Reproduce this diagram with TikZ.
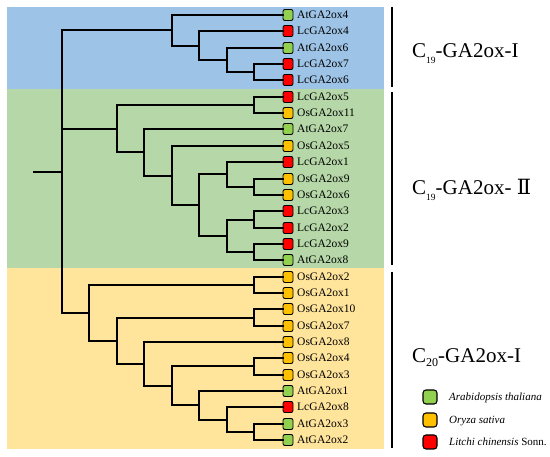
\documentclass[tikz,border=0pt]{standalone}
\usepackage{fontspec}
\setmainfont{Liberation Serif}
\newfontfamily\romfont{DejaVu Serif}
\definecolor{bandblue}{RGB}{157,195,230}
\definecolor{bandgreen}{RGB}{182,215,168}
\definecolor{bandyellow}{RGB}{255,228,155}
\definecolor{cat}{RGB}{146,208,80}
\definecolor{cos}{RGB}{255,192,0}
\definecolor{clc}{RGB}{255,0,0}
\begin{document}
\begin{tikzpicture}[x=1pt,y=-1pt,
  leafbox/.style={draw=black, line width=0.9pt, rounded corners=2pt, minimum width=10pt, minimum height=11pt, inner sep=0pt},
  leaflabel/.style={anchor=base west, font=\fontsize{11.5}{12}\selectfont, inner sep=0pt},
  branch/.style={line width=2pt, line cap=rect},
  barline/.style={line width=2pt},
  grouplabel/.style={anchor=base west, font=\fontsize{21}{24}\selectfont, inner sep=0pt},
  legbox/.style={draw=black, line width=1.1pt, rounded corners=3pt, minimum width=14pt, minimum height=14pt, inner sep=0pt},
  leglabel/.style={anchor=base west, font=\fontsize{11}{12}\selectfont\itshape, inner sep=0pt}]
\useasboundingbox (0,0) rectangle (550,457);
% bands
\fill[bandblue] (7,7) rectangle (384,89);
\fill[bandgreen] (7,89) rectangle (384,268);
\fill[bandyellow] (7,268) rectangle (384,449);
% leaves
\foreach \i/\y/\t/\c in {0/15/AtGA2ox4/cat, 1/31/LcGA2ox4/clc, 2/48/AtGA2ox6/cat, 3/64/LcGA2ox7/clc, 4/80/LcGA2ox6/clc,
  5/97/LcGA2ox5/clc, 6/113/OsGA2ox11/cos, 7/129/AtGA2ox7/cat, 8/146/OsGA2ox5/cos, 9/162/LcGA2ox1/clc, 10/179/OsGA2ox9/cos,
  11/195/OsGA2ox6/cos, 12/211/LcGA2ox3/clc, 13/228/LcGA2ox2/clc, 14/244/LcGA2ox9/clc, 15/260/AtGA2ox8/cat,
  16/277/OsGA2ox2/cos, 17/293/OsGA2ox1/cos, 18/309/OsGA2ox10/cos, 19/326/OsGA2ox7/cos, 20/342/OsGA2ox8/cos,
  21/358/OsGA2ox4/cos, 22/375/OsGA2ox3/cos, 23/391/AtGA2ox1/cat, 24/407/LcGA2ox8/clc, 25/424/AtGA2ox3/cat, 26/440/AtGA2ox2/cat}{
  \node[leafbox, fill=\c] (l\i) at (288,\y) {};
  \node[leaflabel] (t\i) at (297,{\y+3.9}) {\t};
}
% internal nodes
\coordinate (rs) at (34,172);
\coordinate (r) at (62,172);
\coordinate (n34) at (254,72);
\coordinate (n2) at (227,60);
\coordinate (n1) at (199,46);
\coordinate (nB) at (172,30);
\coordinate (n56) at (254,105);
\coordinate (n1011) at (254,187);
\coordinate (nY) at (227,174);
\coordinate (n1213) at (254,220);
\coordinate (n1415) at (254,252);
\coordinate (nZ) at (227,236);
\coordinate (nX) at (199,205);
\coordinate (nW) at (172,176);
\coordinate (nV) at (144,152);
\coordinate (nG) at (117,129);
\coordinate (n1617) at (254,285);
\coordinate (n1819) at (254,318);
\coordinate (n2122) at (254,366);
\coordinate (n2526) at (254,432);
\coordinate (nQ) at (227,420);
\coordinate (nP) at (199,405);
\coordinate (nD) at (172,386);
\coordinate (nC) at (144,364);
\coordinate (nBB) at (117,341);
\coordinate (nA) at (89,313);
% branches
\draw[branch] (rs) -- (r);
\draw[branch] (r) |- (nB);
\draw[branch] (r) |- (nG);
\draw[branch] (r) |- (nA);
% blue
\draw[branch] (nB) |- (l0.west);
\draw[branch] (nB) |- (n1);
\draw[branch] (n1) |- (l1.west);
\draw[branch] (n1) |- (n2);
\draw[branch] (n2) |- (l2.west);
\draw[branch] (n2) |- (n34);
\draw[branch] (n34) |- (l3.west);
\draw[branch] (n34) |- (l4.west);
% green
\draw[branch] (nG) |- (n56);
\draw[branch] (nG) |- (nV);
\draw[branch] (n56) |- (l5.west);
\draw[branch] (n56) |- (l6.west);
\draw[branch] (nV) |- (l7.west);
\draw[branch] (nV) |- (nW);
\draw[branch] (nW) |- (l8.west);
\draw[branch] (nW) |- (nX);
\draw[branch] (nX) |- (nY);
\draw[branch] (nX) |- (nZ);
\draw[branch] (nY) |- (l9.west);
\draw[branch] (nY) |- (n1011);
\draw[branch] (n1011) |- (l10.west);
\draw[branch] (n1011) |- (l11.west);
\draw[branch] (nZ) |- (n1213);
\draw[branch] (nZ) |- (n1415);
\draw[branch] (n1213) |- (l12.west);
\draw[branch] (n1213) |- (l13.west);
\draw[branch] (n1415) |- (l14.west);
\draw[branch] (n1415) |- (l15.west);
% yellow
\draw[branch] (nA) |- (n1617);
\draw[branch] (nA) |- (nBB);
\draw[branch] (n1617) |- (l16.west);
\draw[branch] (n1617) |- (l17.west);
\draw[branch] (nBB) |- (n1819);
\draw[branch] (nBB) |- (nC);
\draw[branch] (n1819) |- (l18.west);
\draw[branch] (n1819) |- (l19.west);
\draw[branch] (nC) |- (l20.west);
\draw[branch] (nC) |- (nD);
\draw[branch] (nD) |- (n2122);
\draw[branch] (nD) |- (nP);
\draw[branch] (n2122) |- (l21.west);
\draw[branch] (n2122) |- (l22.west);
\draw[branch] (nP) |- (l23.west);
\draw[branch] (nP) |- (nQ);
\draw[branch] (nQ) |- (l24.west);
\draw[branch] (nQ) |- (n2526);
\draw[branch] (n2526) |- (l25.west);
\draw[branch] (n2526) |- (l26.west);
% group bars
\draw[barline] (392,7) -- (392,87);
\draw[barline] (392,92) -- (392,265);
\draw[barline] (392,272) -- (392,448);
% group labels
\node[grouplabel] (gl1) at (412,58) {C\raisebox{-6pt}{\fontsize{9.5}{10}\selectfont 19}-GA2ox-I};
\node[grouplabel] (gl2) at (412,195) {C\raisebox{-6pt}{\fontsize{9.5}{10}\selectfont 19}-GA2ox- {\romfont Ⅱ}};
\node[grouplabel] (gl3) at (412,363) {C\raisebox{-4pt}{\fontsize{12}{12}\selectfont 20}-GA2ox-I};
% legend
\node[legbox, fill=cat] (k1) at (430,397) {};
\node[legbox, fill=cos] (k2) at (430,420) {};
\node[legbox, fill=clc] (k3) at (430,442) {};
\node[leglabel] (kt1) at (449,400.5) {Arabidopsis thaliana};
\node[leglabel] (kt2) at (449,423.5) {Oryza sativa};
\node[leglabel] (kt3) at (449,445.5) {Litchi chinensis \upshape Sonn.};
\end{tikzpicture}
\end{document}
